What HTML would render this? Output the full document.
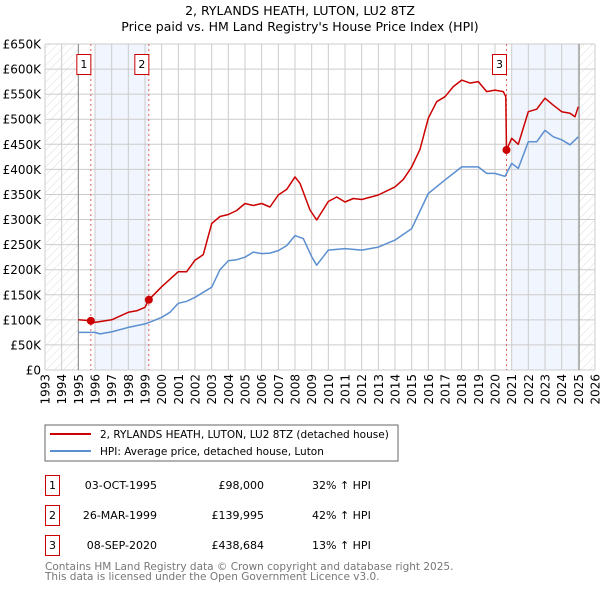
<!DOCTYPE html>
<html><head><meta charset="utf-8"><style>
body{margin:0;background:#fff;font-family:"DejaVu Sans","Liberation Sans",sans-serif;}
svg{display:block}
</style></head><body>
<svg id="c" width="600" height="590" xmlns="http://www.w3.org/2000/svg" font-family="DejaVu Sans, Liberation Sans, sans-serif">
<defs><pattern id="hatch" width="6" height="6" patternUnits="userSpaceOnUse" patternTransform="rotate(45)"><line x1="0" y1="0" x2="0" y2="6" stroke="#ddd" stroke-width="1"/></pattern></defs>
<text x="300" y="15" text-anchor="middle" font-size="12.5">2, RYLANDS HEATH, LUTON, LU2 8TZ</text>
<text x="300" y="31" text-anchor="middle" font-size="12.5">Price paid vs. HM Land Registry's House Price Index (HPI)</text>
<g id="plot"></g>
<rect x="45" y="425" width="353" height="36" fill="#fff" stroke="#666"/>
<line x1="50" y1="434" x2="91" y2="434" stroke="#cc0000" stroke-width="2"/>
<text x="100" y="438" font-size="10.5">2, RYLANDS HEATH, LUTON, LU2 8TZ (detached house)</text>
<line x1="50" y1="451" x2="91" y2="451" stroke="#5b8fd0" stroke-width="2"/>
<text x="100" y="455" font-size="10.5">HPI: Average price, detached house, Luton</text>
<g font-size="11">
<rect x="45.5" y="475.5" width="14" height="20" fill="none" stroke="#cc0000"/><text x="52.5" y="489" text-anchor="middle">1</text>
<text x="157" y="489" text-anchor="end">03-OCT-1995</text><text x="264" y="489" text-anchor="end">£98,000</text><text x="312" y="489">32% ↑ HPI</text>
<rect x="45.5" y="505.5" width="14" height="20" fill="none" stroke="#cc0000"/><text x="52.5" y="519" text-anchor="middle">2</text>
<text x="157" y="519" text-anchor="end">26-MAR-1999</text><text x="264" y="519" text-anchor="end">£139,995</text><text x="312" y="519">42% ↑ HPI</text>
<rect x="45.5" y="535.5" width="14" height="20" fill="none" stroke="#cc0000"/><text x="52.5" y="549" text-anchor="middle">3</text>
<text x="157" y="549" text-anchor="end">08-SEP-2020</text><text x="264" y="549" text-anchor="end">£438,684</text><text x="312" y="549">13% ↑ HPI</text>
</g>
<text x="45" y="570" font-size="10.5" fill="#777">Contains HM Land Registry data © Crown copyright and database right 2025.</text>
<text x="45" y="580" font-size="10.5" fill="#777">This data is licensed under the Open Government Licence v3.0.</text>
</svg>
<script>
const hpiYears=[1995,1996,1996.3,1997,1998,1999,1999.5,2000,2000.5,2001,2001.5,2002,2002.5,2003,2003.5,2004,2004.5,2005,2005.5,2006,2006.5,2007,2007.5,2008,2008.5,2009,2009.3,2010,2011,2012,2013,2014,2015,2016,2017,2018,2019,2019.5,2020,2020.6,2021,2021.4,2022,2022.5,2023,2023.5,2024,2024.5,2025];
const hpiValues=[75,75,72,76,85,92,98,105,115,133,137,145,155,165,200,218,220,225,235,232,233,238,248,268,262,226,209,239,242,239,245,259,282,352,379,405,405,392,392,386,412,402,455,455,478,465,459,449,465];
const propYears=[1995,1995.75,1996,1997,1998,1998.5,1999,1999.23,2000,2001,2001.5,2002,2002.5,2003,2003.5,2004,2004.5,2005,2005.5,2006,2006.5,2007,2007.5,2008,2008.3,2008.9,2009.3,2010,2010.5,2011,2011.5,2012,2013,2014,2014.5,2015,2015.5,2016,2016.5,2017,2017.5,2018,2018.5,2019,2019.5,2020,2020.5,2020.65,2020.69,2021,2021.4,2022,2022.5,2023,2023.5,2024,2024.5,2024.8,2025];
const propValues=[100,98,95,100,115,118,125,140,166,196,196,219,230,292,306,310,318,332,328,332,325,349,360,385,372,319,299,336,345,335,342,340,349,365,380,405,440,502,535,545,565,578,572,575,555,558,555,545,438,462,450,515,520,542,528,515,512,505,525];
const saleYears=[1995.75,1999.23,2020.69];
const saleValues=[98,139.995,438.684];
const saleLabels=["1","2","3"];
const yTicks=[0,50,100,150,200,250,300,350,400,450,500,550,600,650];
const yTickLabels=["£0","£50K","£100K","£150K","£200K","£250K","£300K","£350K","£400K","£450K","£500K","£550K","£600K","£650K"];
const xTicks=[1993,1994,1995,1996,1997,1998,1999,2000,2001,2002,2003,2004,2005,2006,2007,2008,2009,2010,2011,2012,2013,2014,2015,2016,2017,2018,2019,2020,2021,2022,2023,2024,2025,2026];

const L=45,R=595,T=44,B=370;
const X=y=>L+(y-1993)/(2026-1993)*(R-L);
const Y=v=>B-v/650*(B-T);
const g=document.getElementById('plot');
const NS='http://www.w3.org/2000/svg';
function mk(tag,attrs,parent){const e=document.createElementNS(NS,tag);for(const k in attrs)e.setAttribute(k,attrs[k]);(parent||g).appendChild(e);return e;}

let e;
e=mk('rect',{x:L,y:T,width:R-L,height:B-T,fill:'#fff'});


e=mk('rect',{x:L,y:T,width:X(1995)-L,height:B-T,fill:'url(#hatch)'});


e=mk('rect',{x:X(2025.05),y:T,width:R-X(2025.05),height:B-T,fill:'url(#hatch)'});


e=mk('rect',{x:X(1996),y:T,width:X(1999.23)-X(1996),height:B-T,fill:'#eef3fc',opacity:0.8});


e=mk('rect',{x:X(2021),y:T,width:X(2025.05)-X(2021),height:B-T,fill:'#eef3fc',opacity:0.8});



yTicks.forEach((v,i)=>{
  const l=mk('line',{x1:L,x2:R,y1:Y(v),y2:Y(v),stroke:'#ccc','stroke-width':1});
  
  
  const t=mk('text',{x:L-4,y:Y(v)+4.5,'text-anchor':'end','font-size':12});
  t.textContent=yTickLabels[i];
  
  
});
xTicks.forEach(yr=>{
  const l=mk('line',{x1:X(yr),x2:X(yr),y1:T,y2:B,stroke:'#ccc','stroke-width':1});
  
  
  const t=mk('text',{x:0,y:0,'text-anchor':'end','font-size':12,transform:`translate(${X(yr)+4.5},${B+4}) rotate(-90)`});
  t.textContent=yr;
  
  
});
e=mk('line',{x1:X(1995),x2:X(1995),y1:T,y2:B,stroke:'#888'});


e=mk('line',{x1:X(2025.05),x2:X(2025.05),y1:T,y2:B,stroke:'#888'});



saleYears.forEach((yr,i)=>{
  const l=mk('line',{x1:X(yr),x2:X(yr),y1:T,y2:B,stroke:'#e06060','stroke-dasharray':'2,3','stroke-width':1});
  
  
});

function path(xs,vs){return xs.map((x,i)=>(i?'L':'M')+X(x).toFixed(1)+','+Y(vs[i]).toFixed(1)).join('');}
e=mk('path',{d:path(hpiYears,hpiValues),fill:'none',stroke:'#5b8fd0','stroke-width':1.5,'stroke-linejoin':'round'});


e=mk('path',{d:path(propYears,propValues),fill:'none',stroke:'#cc0000','stroke-width':1.5,'stroke-linejoin':'round'});



saleYears.forEach((yr,i)=>{
  const d=mk('circle',{cx:X(yr),cy:Y(saleValues[i]),r:4,fill:'#cc0000'});
  
  
  const bx=X(yr)-10;
  const r=mk('rect',{x:bx-4,y:54.5,width:14,height:20,fill:'#fff',stroke:'#cc0000'});
  
  
  const t=mk('text',{x:bx+3,y:68,'text-anchor':'middle','font-size':11});
  t.textContent=saleLabels[i];
  
  
});
</script>
</body></html>
